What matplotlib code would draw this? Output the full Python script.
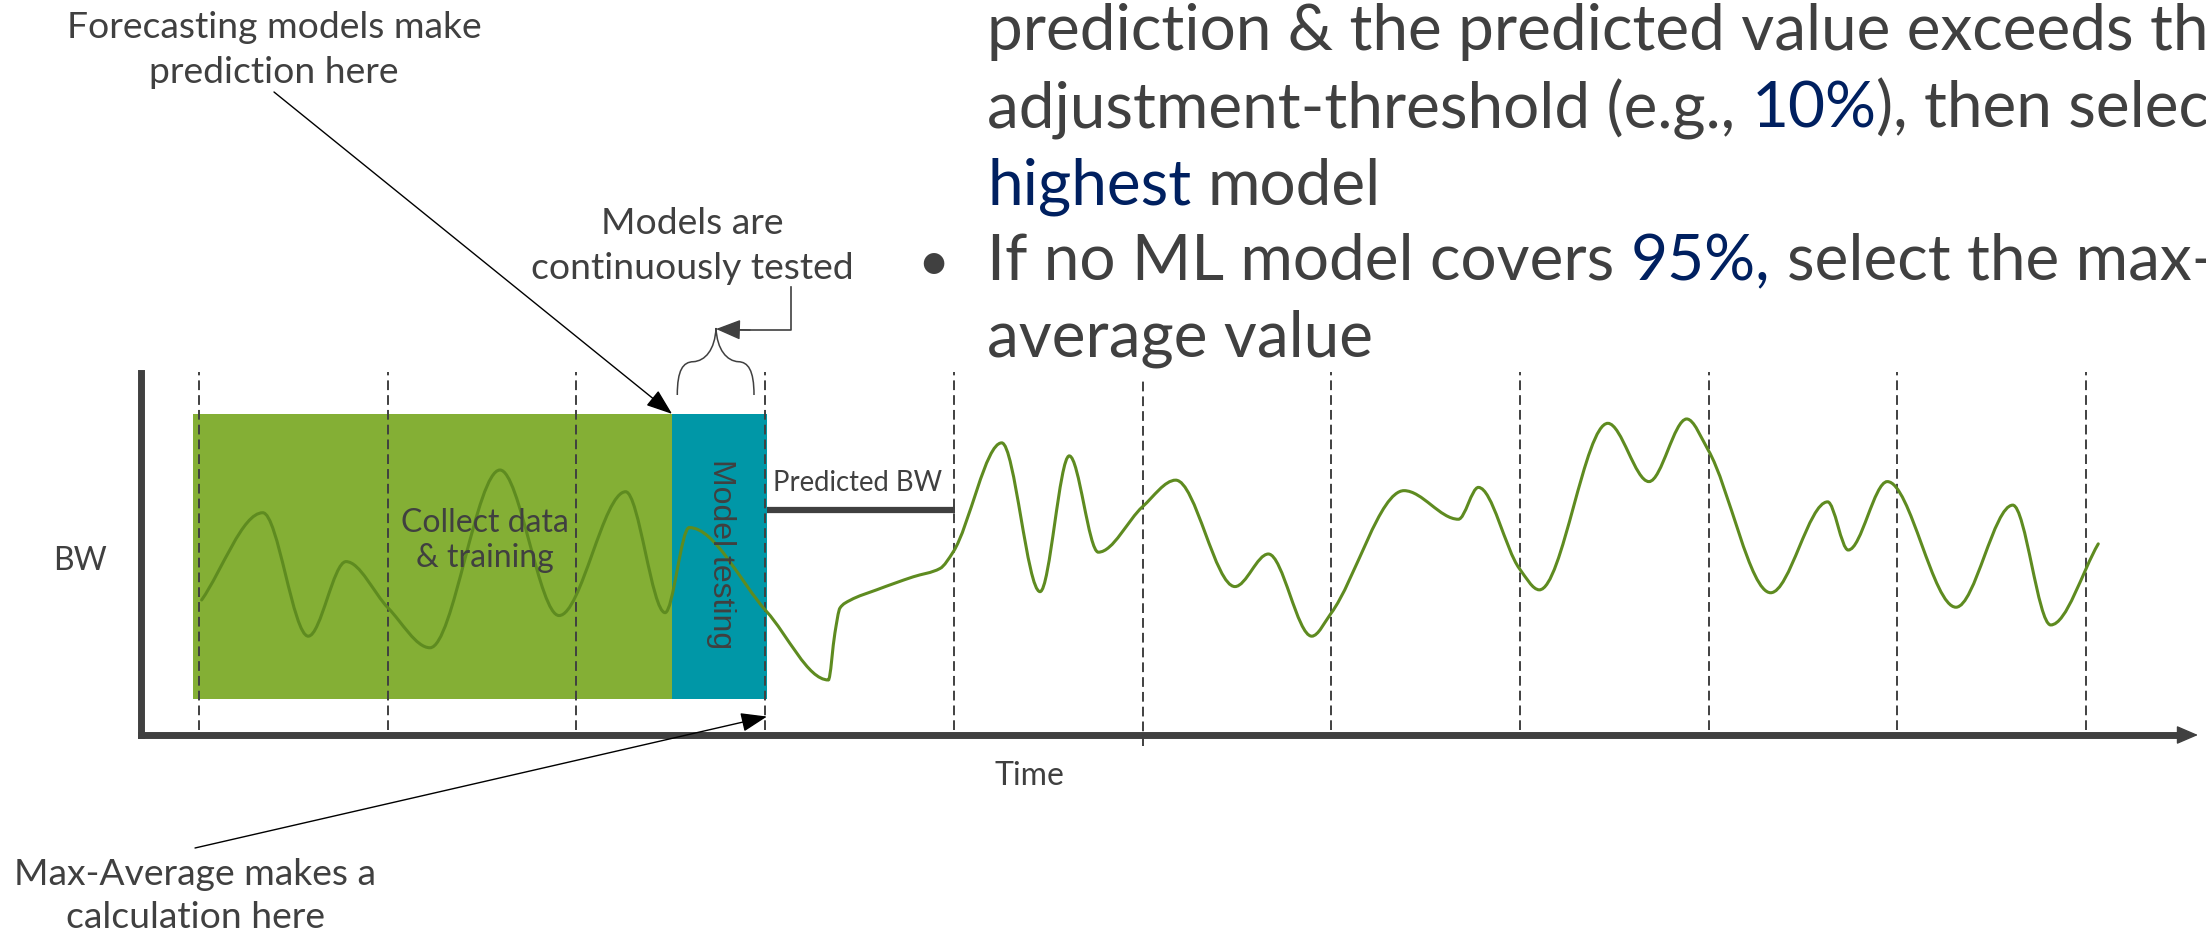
import matplotlib.pyplot as plt
import numpy as np
from matplotlib.patches import Rectangle, PathPatch
from matplotlib.path import Path
from matplotlib.lines import Line2D

W, H = 2206, 933
GRAY = '#404040'
NAVY = '#002060'
GREEN = '#84AF35'
TEAL = '#0097A7'
WAVE = '#5E8B20'

# time measured in forecast periods, BW in % of the axis height
periods = list(range(11))
period_low = [1.4] * 11
period_high = [100.3] * 11
period_low[5], period_high[5] = -3.0, 98.6

wave_t = [0.014, 0.338, 0.579, 0.779, 1.002, 1.224, 1.595, 1.908, 2.261, 2.470,
          2.598, 3.008, 3.335, 3.370, 3.397, 3.450, 3.591, 3.785, 3.927, 3.997,
          4.254, 4.457, 4.612, 4.766, 5.001, 5.176, 5.490, 5.667, 5.897, 5.999,
          6.386, 6.674, 6.780, 6.997, 7.103, 7.466, 7.684, 7.884, 7.998, 8.329,
          8.631, 8.740, 8.947, 9.311, 9.612, 9.813, 10.065]
wave_bw = [37.3, 61.4, 27.3, 47.9, 35.1, 24.1, 73.2, 33.0, 67.2, 33.8,
           57.3, 34.1, 15.2, 28.2, 35.1, 37.2, 40.1, 43.7, 46.0, 50.6,
           80.7, 39.6, 77.1, 50.5, 63.1, 70.4, 41.0, 50.0, 27.3, 33.6,
           67.5, 59.6, 68.4, 46.0, 40.1, 86.1, 70.0, 87.3, 78.7, 39.3,
           64.4, 51.1, 70.0, 35.3, 63.5, 30.4, 52.8]

train_span = (-0.03, 2.507)
test_span = (2.507, 3.01)
box_bw = (9.9, 88.7)
predicted_span = (3.01, 4.006)
predicted_bw = 62.2
calc_point = (3.01, 5.1)

fig = plt.figure(figsize=(W / 100, H / 100), dpi=100)


def fx(x):
    return x / W


def fy(y):
    return 1 - y / H


ax = fig.add_axes([fx(141), fy(735), (2180 - 141) / W, (735 - 373) / H])
ax.set_xlim((141 - 199) / 188.7, (2180 - 199) / 188.7)
ax.set_ylim(0, 100)
ax.patch.set_alpha(0)
ax.set_xticks([])
ax.set_yticks([])
for side in ['top', 'right']:
    ax.spines[side].set_visible(False)
for side in ['left', 'bottom']:
    ax.spines[side].set_linewidth(5)
    ax.spines[side].set_color(GRAY)

# arrow head on the time axis
ax.annotate('', xy=(1 + 18 / 2039, 0), xytext=(0.995, 0), xycoords='axes fraction',
            arrowprops=dict(arrowstyle='-|>,head_length=1.35,head_width=0.58',
                            mutation_scale=10, lw=1, color=GRAY,
                            shrinkA=0, shrinkB=0), annotation_clip=False)

# training / testing blocks
ax.add_patch(Rectangle((train_span[0], box_bw[0]), train_span[1] - train_span[0],
                       box_bw[1] - box_bw[0], fc=GREEN, ec='none', zorder=1))
ax.add_patch(Rectangle((test_span[0], box_bw[0]), test_span[1] - test_span[0],
                       box_bw[1] - box_bw[0], fc=TEAL, ec='none', zorder=1))

ax.vlines(periods, period_low, period_high, colors=GRAY, linewidth=1.4,
          linestyles=(0, (5, 2.6)), zorder=2, clip_on=False)

# predicted value
ax.plot(predicted_span, [predicted_bw] * 2, color=GRAY, lw=4.5,
        solid_capstyle='butt', zorder=3)


# smooth BW trace: monotone cubic through the points, drawn as bezier segments
def slopes(x, y):
    h = np.diff(x)
    d = np.diff(y) / h
    m = np.zeros_like(y)
    for k in range(1, len(x) - 1):
        if d[k - 1] * d[k] > 0:
            w1 = 2 * h[k] + h[k - 1]
            w2 = h[k] + 2 * h[k - 1]
            m[k] = (w1 + w2) / (w1 / d[k - 1] + w2 / d[k])
    m[0], m[-1] = d[0], d[-1]
    return m


t = np.array(wave_t)
b = np.array(wave_bw)
m = slopes(t, b)
verts = [(t[0], b[0])]
codes = [Path.MOVETO]
for k in range(len(t) - 1):
    h = t[k + 1] - t[k]
    verts += [(t[k] + h / 3, b[k] + m[k] * h / 3),
              (t[k + 1] - h / 3, b[k + 1] - m[k + 1] * h / 3),
              (t[k + 1], b[k + 1])]
    codes += [Path.CURVE4] * 3
ax.add_patch(PathPatch(Path(verts, codes), fill=False, ec=WAVE, lw=2.2,
                       capstyle='round', zorder=4))

# labels inside the chart
LATO = 'Lato'
fig.text(fx(485), fy(531.7), 'Collect data', ha='center', va='baseline',
         fontsize=23, family=LATO, color=GRAY, zorder=5)
fig.text(fx(485), fy(566.7), '& training', ha='center', va='baseline',
         fontsize=23, family=LATO, color=GRAY, zorder=5)
fig.text(fx(721), fy(554.5), 'Model testing', ha='center', va='center',
         rotation=-90, fontsize=23, family='Liberation Sans', color=GRAY, zorder=5)
fig.text(fx(773), fy(490.7), 'Predicted BW', ha='left', va='baseline',
         fontsize=19.8, family=LATO, color=GRAY)
fig.text(fx(80), fy(561), 'BW', ha='center', va='center',
         fontsize=23, family=LATO, color=GRAY)
fig.text(fx(1029), fy(776), 'Time', ha='center', va='center',
         fontsize=23, family=LATO, color=GRAY)

# callouts
for x, y, s in [(274, 38.3, 'Forecasting models make'), (274, 83.3, 'prediction here'),
                (692, 234, 'Models are'), (692, 279, 'continuously tested'),
                (195, 885, 'Max-Average makes a'), (195, 928, 'calculation here')]:
    fig.text(fx(x), fy(y), s, ha='center', va='baseline', fontsize=26.8,
             family=LATO, color=GRAY)

ax.annotate('', xy=(test_span[0], box_bw[1]), xycoords='data',
            xytext=(fx(274), fy(92)), textcoords='figure fraction',
            arrowprops=dict(arrowstyle='-|>,head_length=0.9,head_width=0.33',
                            mutation_scale=18, lw=1, color='black',
                            shrinkA=0, shrinkB=0), annotation_clip=False)
ax.annotate('', xy=calc_point, xycoords='data',
            xytext=(fx(195), fy(848)), textcoords='figure fraction',
            arrowprops=dict(arrowstyle='-|>,head_length=0.9,head_width=0.33',
                            mutation_scale=18, lw=1, color='black',
                            shrinkA=0, shrinkB=0), annotation_clip=False)

# elbow connector onto the brace
fig.add_artist(Line2D([fx(791), fx(791), fx(740)], [fy(287), fy(330), fy(330)],
                      color=GRAY, lw=1.2))
ax.annotate('', xy=(fx(716), fy(329)), xytext=(fx(750), fy(330)),
            xycoords='figure fraction',
            arrowprops=dict(arrowstyle='-|>,head_length=1.1,head_width=0.45',
                            mutation_scale=14, lw=1, color=GRAY,
                            shrinkA=0, shrinkB=0), annotation_clip=False)

brace = [(677.3, 395), (677.3, 370), (683, 362), (693.3, 361.7),
         (705, 361), (715, 350), (716, 328),
         (717, 350), (727, 361), (738.3, 361.7),
         (748, 362), (754, 370), (754, 395)]
brace_codes = [Path.MOVETO] + [Path.CURVE4] * 12
fig.add_artist(PathPatch(Path([(fx(x), fy(y)) for x, y in brace], brace_codes),
                         transform=fig.transFigure, fill=False, ec=GRAY, lw=1.1))

# bullet text on the right, with highlighted words
renderer = fig.canvas.get_renderer()
BIG = dict(fontsize=46, family=LATO)


def text_width(s):
    tmp = fig.text(0, 0, s, **BIG)
    w = tmp.get_window_extent(renderer).width
    tmp.remove()
    return w


def draw_line(x0, base, runs):
    full = ''.join(s for s, c in runs)
    pos = 0
    for s, c in runs:
        i = pos + len(s) - len(s.lstrip())
        pos += len(s)
        dx = 0 if i == 0 else text_width(full[:i + 1]) - text_width(full[i])
        fig.text(fx(x0 + dx), fy(base), s.strip(), color=c, ha='left',
                 va='baseline', **BIG)


bullet_lines = [
    (50, [('prediction & the predicted value exceeds th', GRAY)]),
    (128, [('adjustment-threshold (e.g., ', GRAY), ('10%', NAVY),
           ('), then selec', GRAY)]),
    (205, [('highest', NAVY), (' model', GRAY)]),
    (280, [('If no ML model covers ', GRAY), ('95%,', NAVY),
           (' select the max-', GRAY)]),
    (357, [('average value', GRAY)]),
]
for base, runs in bullet_lines:
    draw_line(987, base, runs)
fig.text(fx(933), fy(280), '\u2022', ha='center', va='baseline', color=GRAY,
         fontsize=40, family=LATO)

fig.savefig('out.png', dpi=100)
